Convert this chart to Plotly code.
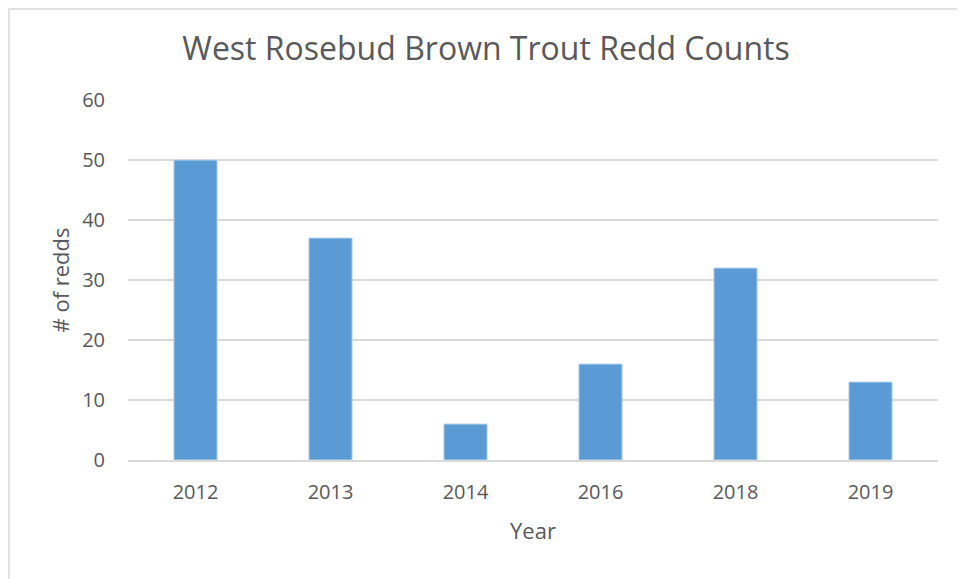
import plotly.graph_objects as go

years = ["2012", "2013", "2014", "2016", "2018", "2019"]
redds = [50, 37, 6, 16, 32, 13]
y_ticks = [0, 10, 20, 30, 40, 50, 60]

OFF = 8  # page body margin
W, H = 965 - OFF, 579 - OFF
L, T = 128 - OFF, 100 - OFF
pw, ph = 810, 360
R, B = W - L - pw, H - T - ph

fig = go.Figure(go.Bar(
    x=years, y=redds, width=0.32,
    marker=dict(color="#5B9BD5", line=dict(color="#BDD7EE", width=1)),
))

txt = "#595959"
font = "Open Sans"
fig.update_layout(
    width=W, height=H,
    margin=dict(l=L, r=R, t=T, b=B),
    paper_bgcolor="white", plot_bgcolor="white",
    showlegend=False,
    font=dict(family=font, color=txt),
    title=dict(text="West Rosebud Brown Trout Redd Counts", x=(486 - OFF) / W, xanchor="center",
               y=1 - (49 - OFF) / H, yanchor="middle", font=dict(size=32, color=txt, family=font)),
    xaxis=dict(title=dict(text="Year", font=dict(size=22, color=txt), standoff=20),
               tickfont=dict(size=20, color=txt), ticks="outside", ticklen=13, tickcolor="rgba(0,0,0,0)",
               showline=True, linecolor="#D9D9D9", linewidth=2, showgrid=False),
    yaxis=dict(title=dict(text="# of redds", font=dict(size=22, color=txt), standoff=6),
               range=[0, 60], tickvals=y_ticks, tickfont=dict(size=20, color=txt),
               ticks="outside", ticklen=18, tickcolor="rgba(0,0,0,0)",
               showgrid=True, gridcolor="#D9D9D9", gridwidth=1.5, zeroline=False, showline=False),
    shapes=[dict(type="rect", xref="paper", yref="paper",
                 x0=(1 - L) / pw, x1=(W + 10 - L) / pw,
                 y0=(T + ph - (H + 10)) / ph, y1=(T + ph - 1) / ph,
                 line=dict(color="#D9D9D9", width=1.5), fillcolor="rgba(0,0,0,0)", layer="below")],
)

fig.write_html("out.html")
